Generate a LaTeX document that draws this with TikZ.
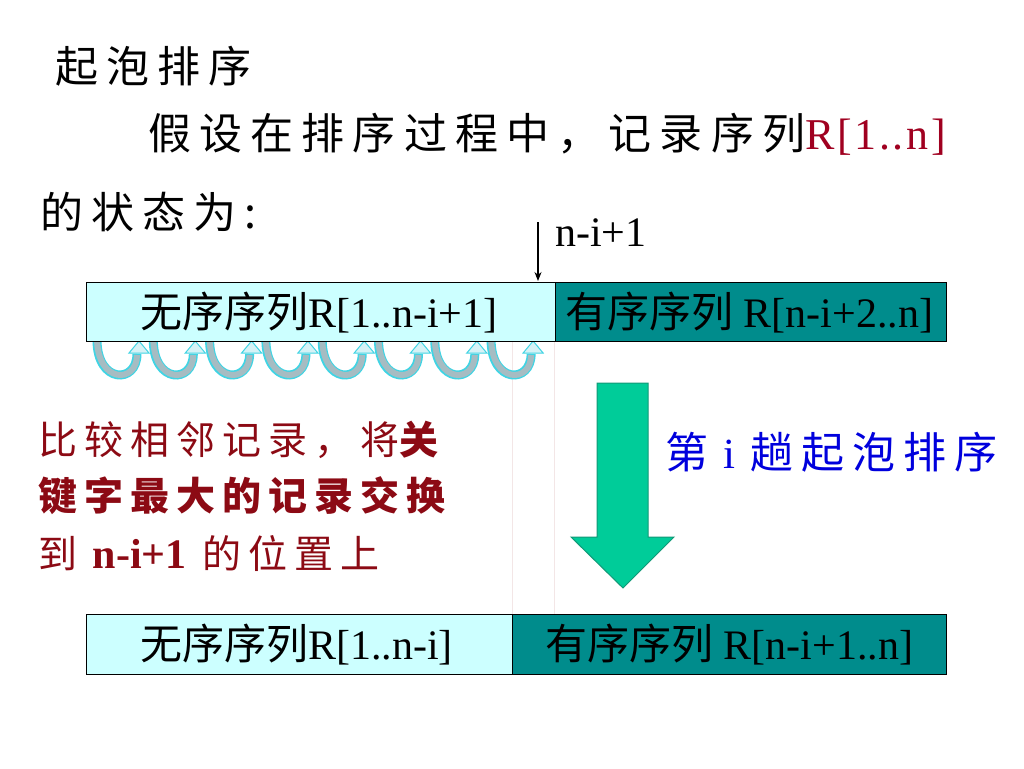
\documentclass[tikz,border=0pt]{standalone}
\usepackage{fontspec}
\setmainfont{Liberation Serif}
\newfontfamily\cjk{Noto Sans CJK SC}
\newfontfamily\cjksp[LetterSpace=19]{Noto Sans CJK SC}
\newfontfamily\cjkred[LetterSpace=18]{Noto Sans CJK SC}
\newfontfamily\latsp[LetterSpace=6]{Liberation Serif}
\usetikzlibrary{arrows.meta}
\definecolor{lcyan}{HTML}{CCFFFF}
\definecolor{teal2}{HTML}{008C8C}
\definecolor{agreen}{HTML}{00CC99}
\definecolor{agreenb}{HTML}{119977}
\definecolor{dred}{HTML}{8C0A14}
\definecolor{rred}{HTML}{A00020}
\definecolor{blu}{HTML}{0000DD}
\definecolor{arcc}{HTML}{40D4E4}
\definecolor{arcg}{HTML}{A6BCC2}
\definecolor{arch}{HTML}{D6F2F6}
\definecolor{faint}{HTML}{F3E6E6}
\tikzset{
  seqbox/.style={draw=black, line width=1pt, anchor=north west, inner sep=0pt},
  txt/.style={anchor=west, inner sep=0pt, font=\fontsize{43}{50}\selectfont},
  boxtxt/.style={anchor=west, inner sep=0pt, font=\fontsize{42}{50}\selectfont},
}
\begin{document}
\begin{tikzpicture}[x=1pt,y=-1pt]
\useasboundingbox[fill=white] (0,0) rectangle (1024,768);
% faint guide lines
\draw[faint, line width=0.7pt] (512,341) -- (512,614);
\draw[faint, line width=0.7pt] (554,341) -- (554,614);
% curved arrows
\foreach \i in {0,...,7}{
  \pgfmathsetmacro\xa{93+56.3*\i}
  \draw[arcc, line width=9pt] (\xa+4,340) .. controls (\xa+4,384) and (\xa+44,384) .. (\xa+44,354);
  \draw[arcg, line width=6pt] (\xa+4,338) .. controls (\xa+4,384) and (\xa+44,384) .. (\xa+44,355);
  \filldraw[draw=arcc, fill=arch, line width=1pt] (\xa+46,341) -- (\xa+56,353) -- (\xa+36,353) -- cycle;
}
% title texts
\node[txt] (t1) at (55,66) {\cjksp 起泡排序};
\node[txt] (t2) at (148,134) {\cjksp 假设在排序过程中，记录序列{\color{rred}\latsp\fontsize{44}{50}\selectfont R[1..n]}};
\node[txt] (t3) at (40,212) {\cjksp 的状态为:};
% pointer
\node[anchor=west, inner sep=0pt, font=\fontsize{42}{46}\selectfont] (lab) at (555,233) {n-i+1};
\coordinate (ptop) at (538,222);
\coordinate (pbot) at (538,281);
\draw[-{Stealth[length=9pt,width=7pt]}, line width=1.2pt] (ptop) -- (pbot);
% first row
\node[seqbox, fill=lcyan, minimum width=469pt, minimum height=59pt] (u1) at (86,282) {};
\node[seqbox, fill=teal2, minimum width=391pt, minimum height=59pt] (s1) at (555,282) {};
\node[boxtxt] at (140,313) {{\cjk 无序序列}R[1..n-i+1]};
\node[boxtxt] at (565,313) {{\cjk 有序序列} R[n-i+2..n]};
% second row
\node[seqbox, fill=lcyan, minimum width=426pt, minimum height=60pt] (u2) at (86,614) {};
\node[seqbox, fill=teal2, minimum width=434pt, minimum height=60pt] (s2) at (512,614) {};
\node[boxtxt] at (140,645) {{\cjk 无序序列}R[1..n-i]};
\node[boxtxt] at (545,645) {{\cjk 有序序列} R[n-i+1..n]};
% big down arrow
\filldraw[fill=agreen, draw=agreenb, line width=1pt]
  (597,383) -- (648,383) -- (648,537) -- (674,537) -- (623,588) -- (571,537) -- (597,537) -- cycle;
% blue label
\node[txt, text=blu] (pass) at (665,452) {{\cjk 第}\hspace{0.35em}i\hspace{0.35em}{\cjksp 趟起泡排序}};
% red explanation
\node[txt, text=dred, font=\fontsize{39}{44}\selectfont] (r1) at (38,440) {\cjkred 比较相邻记录，将{\bfseries 关}};
\node[txt, text=dred, font=\fontsize{39}{44}\selectfont\bfseries] (r2) at (38,496) {\cjkred 键字最大的记录交换};
\node[txt, text=dred, font=\fontsize{39}{44}\selectfont] (r3) at (38,553) {{\cjkred 到}\hspace{0.4em}{\bfseries\fontsize{42}{44}\selectfont n-i+1}\hspace{0.4em}{\cjkred 的位置上}};
\end{tikzpicture}
\end{document}
